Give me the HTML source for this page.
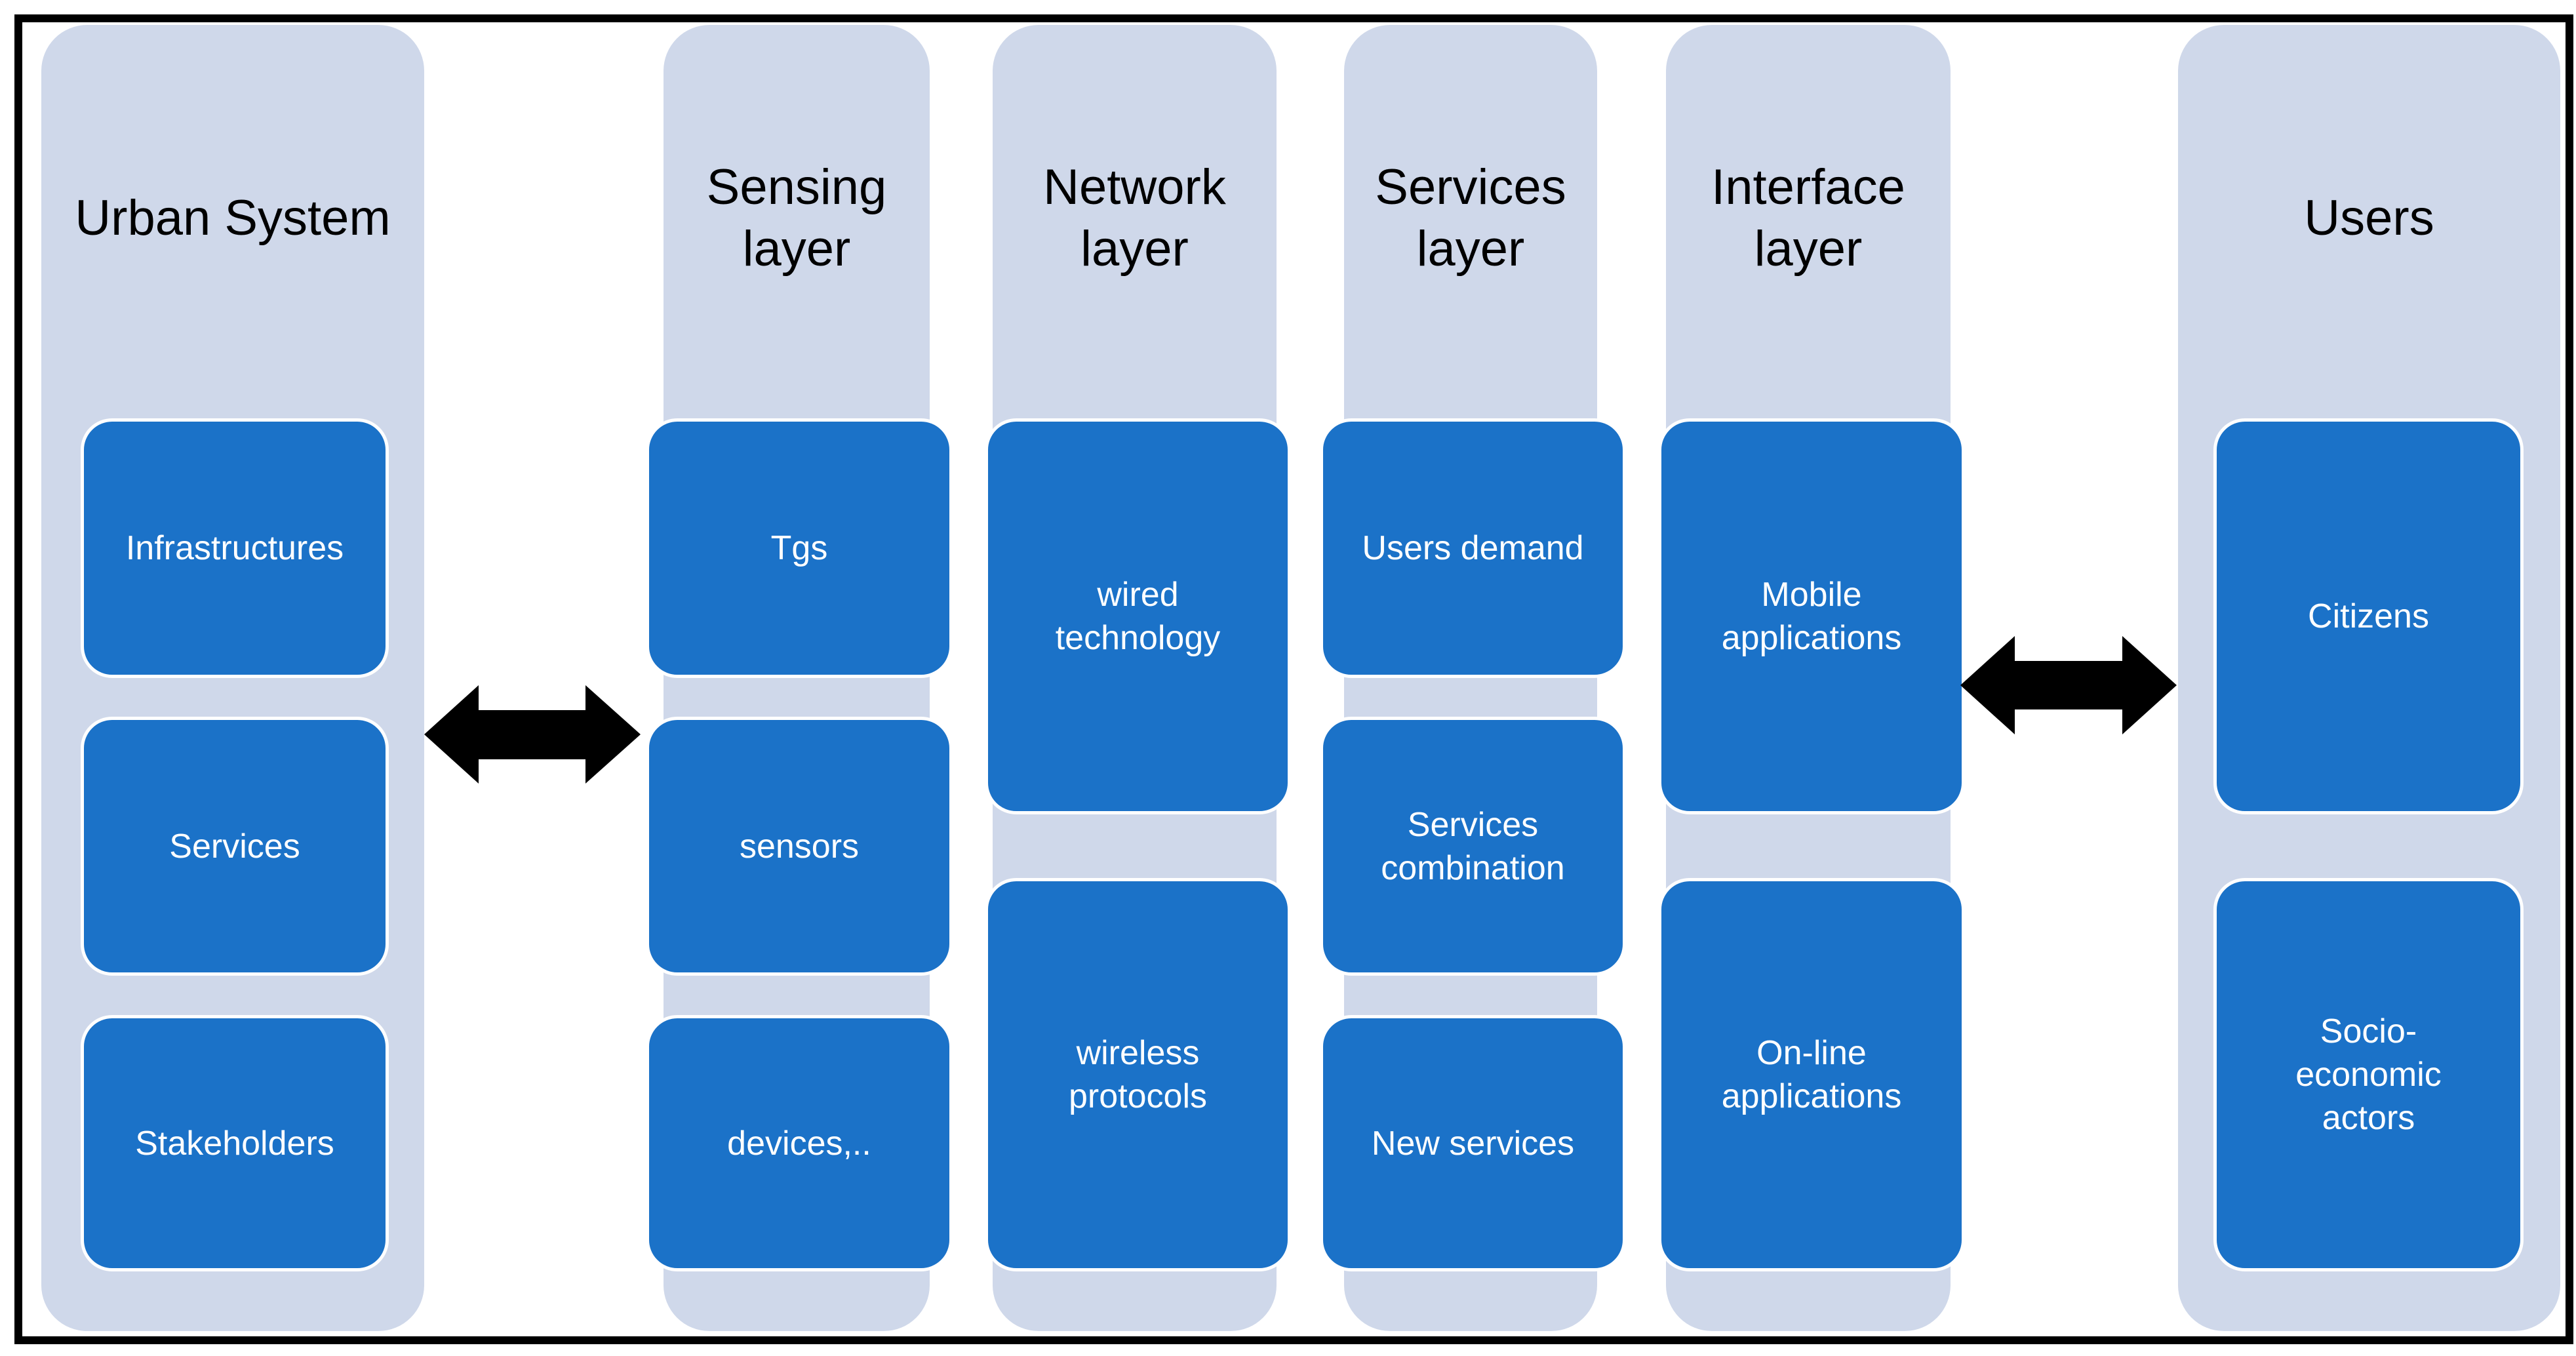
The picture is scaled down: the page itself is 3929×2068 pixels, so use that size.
<!DOCTYPE html>
<html><head><meta charset="utf-8"><style>
body{margin:0;width:3929px;height:2068px;background:#fff;position:relative;overflow:hidden;font-family:"Liberation Sans",sans-serif}
.frame{position:absolute;left:22px;top:22px;width:3879px;height:2004px;border:12px solid #000}
.col{position:absolute;background:#cfd8ea;border-radius:70px;top:38px;height:1992px}
.t{position:absolute;display:flex;align-items:center;justify-content:center;text-align:center;font-size:76px;line-height:94px;color:#000}
.b{position:absolute;background:#1b72c8;border:5px solid #fff;border-radius:48px;box-sizing:border-box;display:flex;align-items:center;justify-content:center;text-align:center;color:#fff;font-size:52px;line-height:66px}
svg{position:absolute;left:0;top:0}
</style></head><body>
<div class="frame"></div>
<div class="col" style="left:63px;width:584px"></div>
<div class="col" style="left:1012px;width:406px"></div>
<div class="col" style="left:1514px;width:433px"></div>
<div class="col" style="left:2050px;width:386px"></div>
<div class="col" style="left:2541px;width:434px"></div>
<div class="col" style="left:3322px;width:583px"></div>

<div class="t" style="left:63px;width:584px;top:233px;height:200px">Urban System</div>
<div class="t" style="left:1012px;width:406px;top:233px;height:200px">Sensing<br>layer</div>
<div class="t" style="left:1514px;width:433px;top:233px;height:200px">Network<br>layer</div>
<div class="t" style="left:2050px;width:386px;top:233px;height:200px">Services<br>layer</div>
<div class="t" style="left:2541px;width:434px;top:233px;height:200px">Interface<br>layer</div>
<div class="t" style="left:3322px;width:583px;top:233px;height:200px">Users</div>

<div class="b" style="left:123px;width:470px;top:638px;height:396px">Infrastructures</div>
<div class="b" style="left:123px;width:470px;top:1093px;height:395px">Services</div>
<div class="b" style="left:123px;width:470px;top:1548px;height:391px">Stakeholders</div>

<div class="b" style="left:985px;width:468px;top:638px;height:396px">Tgs</div>
<div class="b" style="left:985px;width:468px;top:1093px;height:395px">sensors</div>
<div class="b" style="left:985px;width:468px;top:1548px;height:391px">devices,..</div>

<div class="b" style="left:1502px;width:467px;top:638px;height:604px">wired<br>technology</div>
<div class="b" style="left:1502px;width:467px;top:1339px;height:600px">wireless<br>protocols</div>

<div class="b" style="left:2013px;width:467px;top:638px;height:396px">Users demand</div>
<div class="b" style="left:2013px;width:467px;top:1093px;height:395px">Services<br>combination</div>
<div class="b" style="left:2013px;width:467px;top:1548px;height:391px">New services</div>

<div class="b" style="left:2529px;width:468px;top:638px;height:604px">Mobile<br>applications</div>
<div class="b" style="left:2529px;width:468px;top:1339px;height:600px">On-line<br>applications</div>

<div class="b" style="left:3376px;width:473px;top:638px;height:604px">Citizens</div>
<div class="b" style="left:3376px;width:473px;top:1339px;height:600px">Socio-<br>economic<br>actors</div>

<svg width="3929" height="2068">
<polygon points="647,1120 730,1045 730,1083 893,1083 893,1045 977,1120 893,1195 893,1158 730,1158 730,1195" fill="#000"/>
<polygon points="2990,1045 3073,970 3073,1008 3237,1008 3237,970 3320,1045 3237,1120 3237,1082 3073,1082 3073,1120" fill="#000"/>
</svg>
</body></html>
